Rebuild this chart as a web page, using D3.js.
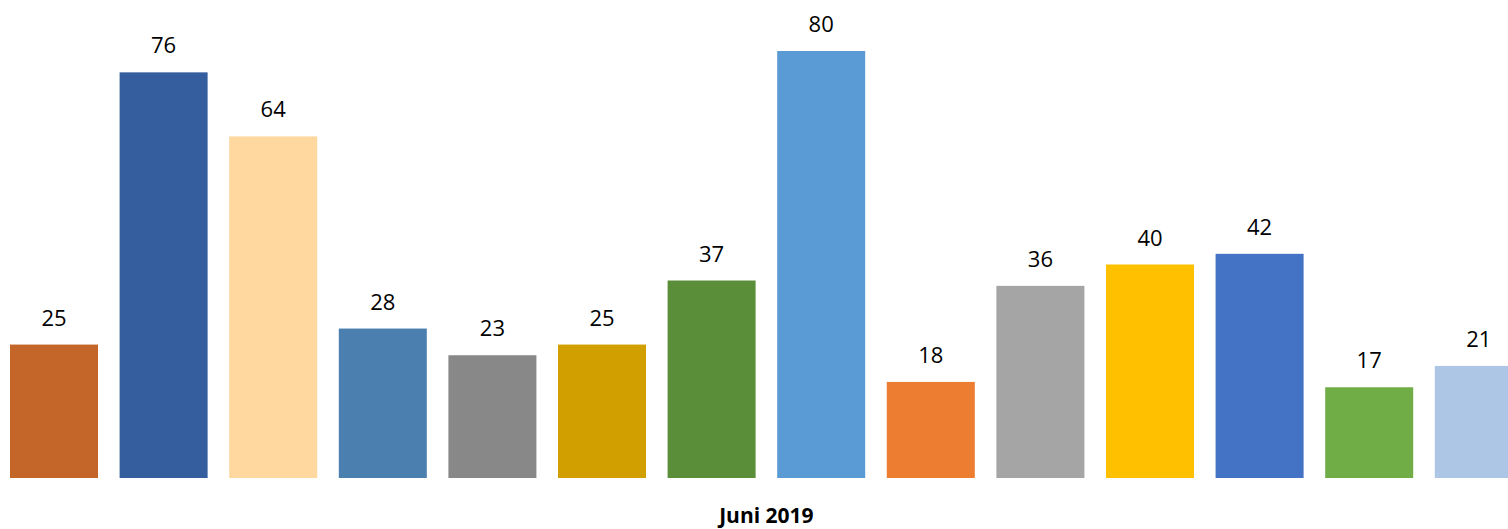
<!DOCTYPE html>
<html>
<head>
<meta charset="utf-8">
<script src="https://cdn.jsdelivr.net/npm/d3@7"></script>
<style>
  html, body { margin: 0; padding: 0; background: #fff; }
  svg { display: block; }
</style>
</head>
<body>
<div id="chart"></div>
<script>
const categories = ["c1", "c2", "c3", "c4", "c5", "c6", "c7", "c8", "c9", "c10", "c11", "c12", "c13", "c14"];
const values = [25, 76, 64, 28, 23, 25, 37, 80, 18, 36, 40, 42, 17, 21];
const colors = ["#C4652A", "#355E9F", "#FED89E", "#4B7FAF", "#888888", "#D19F00",
                "#5B8E39", "#5B9BD5", "#ED7D31", "#A5A5A5", "#FFC000", "#4472C4",
                "#70AD47", "#ADC6E5"];
const axisTitle = "Juni 2019";

const width = 1508;
const height = 529;

const svg = d3.select("#chart")
    .append("svg")
    .attr("width", width)
    .attr("height", height);

// band step ~109.6px, bar width ~88px
const x = d3.scaleBand()
    .domain(categories)
    .range([10, 1522.8])
    .paddingInner(0.197)
    .paddingOuter(0)
    .align(0);

const y = d3.scaleLinear()
    .domain([0, 80])
    .range([478, 51]);

svg.selectAll(".bar")
    .data(values)
    .enter().append("rect")
    .attr("class", "bar")
    .attr("x", (d, i) => x(categories[i]))
    .attr("y", d => y(d))
    .attr("width", x.bandwidth())
    .attr("height", d => y(0) - y(d))
    .attr("fill", (d, i) => colors[i]);

svg.selectAll(".label")
    .data(values)
    .enter().append("text")
    .attr("class", "label")
    .attr("x", (d, i) => x(categories[i]) + x.bandwidth() / 2)
    .attr("y", d => y(d) - 19)
    .attr("text-anchor", "middle")
    .attr("font-family", "'Open Sans', sans-serif")
    .attr("font-size", 22)
    .attr("fill", "#000")
    .text(d => d);

svg.append("text")
    .attr("x", (x.range()[0] + x.range()[1]) / 2)
    .attr("y", 523)
    .attr("text-anchor", "middle")
    .attr("font-family", "'Open Sans', sans-serif")
    .attr("font-weight", "bold")
    .attr("font-size", 21)
    .attr("fill", "#000")
    .text(axisTitle);
</script>
</body>
</html>
